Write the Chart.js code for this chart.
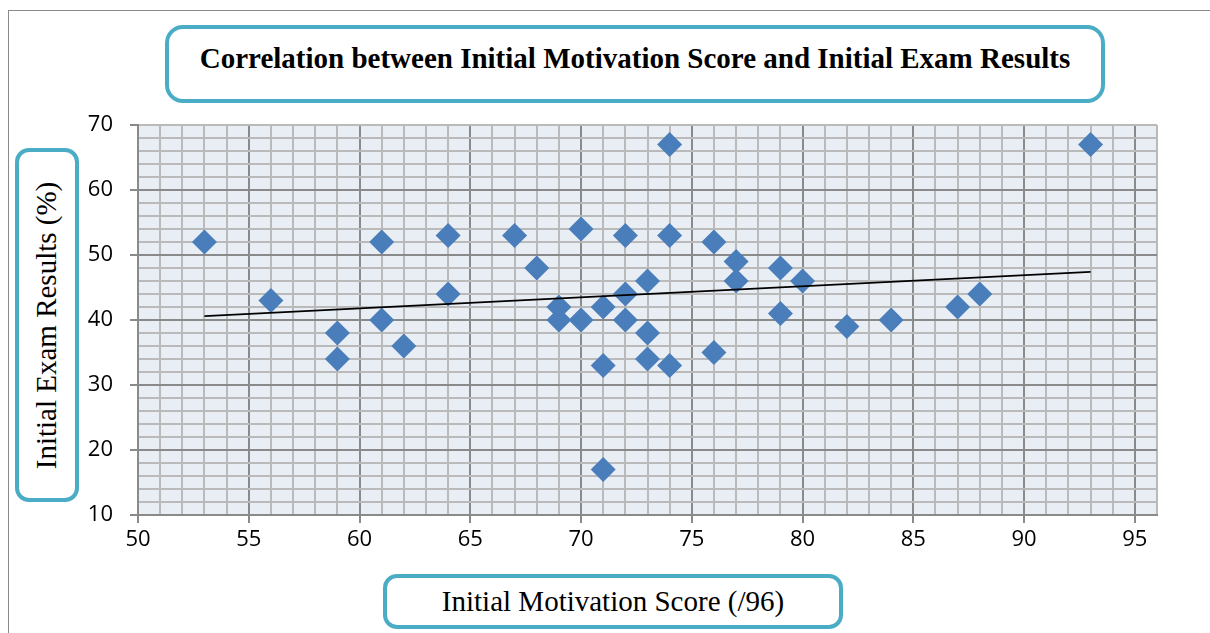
<!DOCTYPE html>
<html>
<head>
<meta charset="utf-8">
<script src="https://cdn.jsdelivr.net/npm/chart.js@4"></script>
<style>
  html, body { margin: 0; padding: 0; background: #fff; }
  #wrap { position: relative; width: 1210px; height: 633px; overflow: hidden; }
  #frame { position: absolute; left: 8px; top: 10px; width: 1210px; height: 640px; border: 1px solid #8a8a8a; box-sizing: border-box; }
  canvas { position: absolute; left: 0; top: 0; }
  .box { position: absolute; border: 4px solid #4bacc6; border-radius: 18px; background: #fff; box-sizing: border-box;
         font-family: "Liberation Serif", "Times New Roman", serif; color: #000; display: flex; align-items: center; justify-content: center; }
  #title { left: 165px; top: 25px; width: 940px; height: 78px; font-weight: bold; font-size: 29px; padding-bottom: 12px; }
  #ytitle { left: 15px; top: 148px; width: 64px; height: 354px; border-radius: 14px; }
  #ytitle span { transform: rotate(-90deg); white-space: nowrap; font-size: 29px; }
  #xtitle { left: 383px; top: 574px; width: 460px; height: 55px; font-size: 29px; border-radius: 14px; }
</style>
</head>
<body>
<div id="wrap">
  <div id="frame"></div>
  <canvas id="chart" width="1210" height="633"></canvas>
  <div class="box" id="title">Correlation between Initial Motivation Score and Initial Exam Results</div>
  <div class="box" id="ytitle"><span>Initial Exam Results (%)</span></div>
  <div class="box" id="xtitle">Initial Motivation Score (/96)</div>
</div>
<script>
// values
const motivation = [53, 56, 59, 59, 61, 61, 62, 64, 64, 67, 68, 69, 69, 70, 70, 71, 71, 71, 72, 72,
                    72, 73, 73, 73, 74, 74, 74, 76, 76, 77, 77, 79, 79, 80, 82, 84, 87, 88, 93];
const examResults = [52, 43, 38, 34, 52, 40, 36, 53, 44, 53, 48, 42, 40, 54, 40, 42, 33, 17, 53, 44,
                     40, 46, 38, 34, 67, 53, 33, 52, 35, 49, 46, 48, 41, 46, 39, 40, 42, 44, 67];
// linear trendline end points as drawn
const trendX = [53, 93];
const trendY = [40.6, 47.4];
// axis ranges
const xRange = [50, 96];
const yRange = [10, 70];

const points = motivation.map((x, i) => ({ x: x, y: examResults[i] }));
const trend = trendX.map((x, i) => ({ x: x, y: trendY[i] }));

const plotBg = {
  id: 'plotBg',
  beforeDraw(chart) {
    const a = chart.chartArea;
    const ctx = chart.ctx;
    ctx.save();
    ctx.fillStyle = '#e9edf4';
    ctx.fillRect(a.left, a.top, a.right - a.left, a.bottom - a.top);
    ctx.restore();
  }
};

const majorGrid = '#8a8a8a';
const minorGrid = '#bababa';

new Chart(document.getElementById('chart'), {
  type: 'scatter',
  data: {
    datasets: [
      {
        type: 'line',
        label: 'Trend',
        data: trend,
        borderColor: '#000',
        borderWidth: 1.6,
        pointRadius: 0,
        fill: false
      },
      {
        label: 'Scores',
        data: points,
        pointStyle: 'rectRot',
        pointRadius: 12.5,
        pointHoverRadius: 12.5,
        pointBorderWidth: 0,
        backgroundColor: '#4a7ebb',
        borderColor: '#4a7ebb'
      }
    ]
  },
  options: {
    responsive: false,
    animation: false,
    events: [],
    layout: { padding: { left: 0, top: 125, right: 53, bottom: 0 } },
    plugins: { legend: { display: false }, tooltip: { enabled: false } },
    scales: {
      x: {
        type: 'linear',
        min: xRange[0],
        max: xRange[1],
        afterFit: s => { s.height = 118; },
        ticks: {
          stepSize: 1,
          autoSkip: false,
          maxRotation: 0,
          padding: 4,
          color: '#000',
          font: { family: '"Open Sans", sans-serif', size: 22 },
          callback: v => (v % 5 === 0 && v <= 95) ? v : ''
        },
        grid: {
          color: c => (c.tick && c.tick.value % 5 === 0) ? majorGrid : minorGrid,
          tickColor: c => (c.tick && c.tick.value % 5 === 0) ? majorGrid : 'rgba(0,0,0,0)',
          tickLength: 8,
          lineWidth: 2
        },
        border: { color: majorGrid, width: 2 }
      },
      y: {
        type: 'linear',
        min: yRange[0],
        max: yRange[1],
        afterFit: s => { s.width = 138; },
        ticks: {
          stepSize: 2,
          autoSkip: false,
          padding: 17,
          color: '#000',
          font: { family: '"Open Sans", sans-serif', size: 22 },
          callback: v => (v % 10 === 0) ? v : ''
        },
        grid: {
          color: c => (c.tick && c.tick.value % 10 === 0 && c.tick.value < 70) ? majorGrid : minorGrid,
          tickColor: c => (c.tick && c.tick.value % 10 === 0) ? majorGrid : 'rgba(0,0,0,0)',
          tickLength: 8,
          lineWidth: 2
        },
        border: { color: majorGrid, width: 2 }
      }
    }
  },
  plugins: [plotBg]
});
</script>
</body>
</html>
